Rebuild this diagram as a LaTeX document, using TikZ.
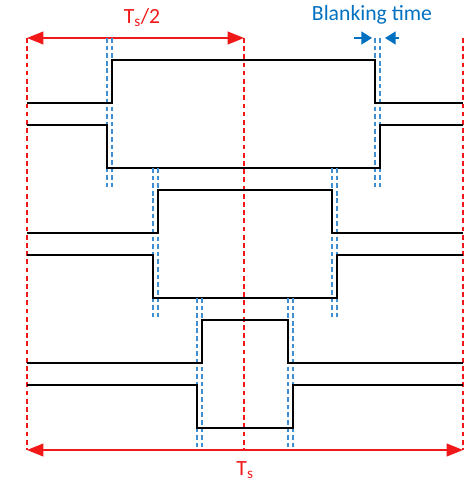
\documentclass[tikz,border=0pt]{standalone}
\usepackage{fontspec}
\setmainfont{Carlito}
\usetikzlibrary{arrows.meta,positioning,calc}
\definecolor{period}{HTML}{F01818}
\definecolor{blank}{HTML}{0070C0}
\definecolor{blankdash}{HTML}{3D8FD1}

\begin{document}
\begin{tikzpicture}[
  x=0.03cm, y=-0.03cm,
  wave/.style={black, line width=1.2pt},
  perline/.style={period, line width=0.9pt, dash pattern=on 4pt off 3pt},
  blankline/.style={blankdash, line width=0.9pt, dash pattern=on 4pt off 2.5pt},
  dimarr/.style={{Triangle[length=14pt,width=11pt]}-{Triangle[length=14pt,width=11pt]}, period, line width=1.1pt},
  gaparr/.style={-{Triangle[length=9pt,width=11pt]}, blank, line width=1.1pt},
  lbl/.style={font=\fontsize{18.5}{20}\selectfont, inner sep=1pt}
]
  \useasboundingbox (0,0) rectangle (467,482);
  % period markers
  \coordinate (t0) at (27,38);
  \coordinate (t1) at (244,38);
  \coordinate (t2) at (463,38);
  \coordinate (b0) at (27,450);
  \coordinate (b1) at (244,450);
  \coordinate (b2) at (463,450);
  \draw[perline] (t0) -- (b0);
  \draw[perline] (t1) -- (b1);
  \draw[perline] (t2) -- (b2);
  \draw[dimarr] (t0) -- (t1);
  \draw[dimarr] (b0) -- (b2);
  \node[lbl, period] (half) at (142,18) {T\textsubscript{s}/2};
  \node[lbl, period] (full) at (245,470) {T\textsubscript{s}};
  % switching legs
  \foreach \k/\L/\R in {0/107/375, 1/153/332, 2/197/288}{
    \pgfmathsetmacro{\dy}{130*\k}
    \draw[blankline] (\L,38+\dy) -- (\L,188+\dy);
    \draw[blankline] (\L+5,38+\dy) -- (\L+5,188+\dy);
    \draw[blankline] (\R,38+\dy) -- (\R,188+\dy);
    \draw[blankline] (\R+5,38+\dy) -- (\R+5,188+\dy);
    \draw[wave] (27,103+\dy) -| (\L+5,60+\dy) -| (\R,103+\dy) -- (463,103+\dy);
    \draw[wave] (27,125+\dy) -| (\L,168+\dy) -| (\R+5,125+\dy) -- (463,125+\dy);
  }
  % blanking time
  \coordinate (g0) at (372,38);
  \coordinate (g1) at (385,38);
  \draw[gaparr] (354,38) -- (g0);
  \draw[gaparr] (399,38) -- (g1);
  \node[lbl, blank] (gap) at (372,15) {Blanking time};
\end{tikzpicture}
\end{document}
